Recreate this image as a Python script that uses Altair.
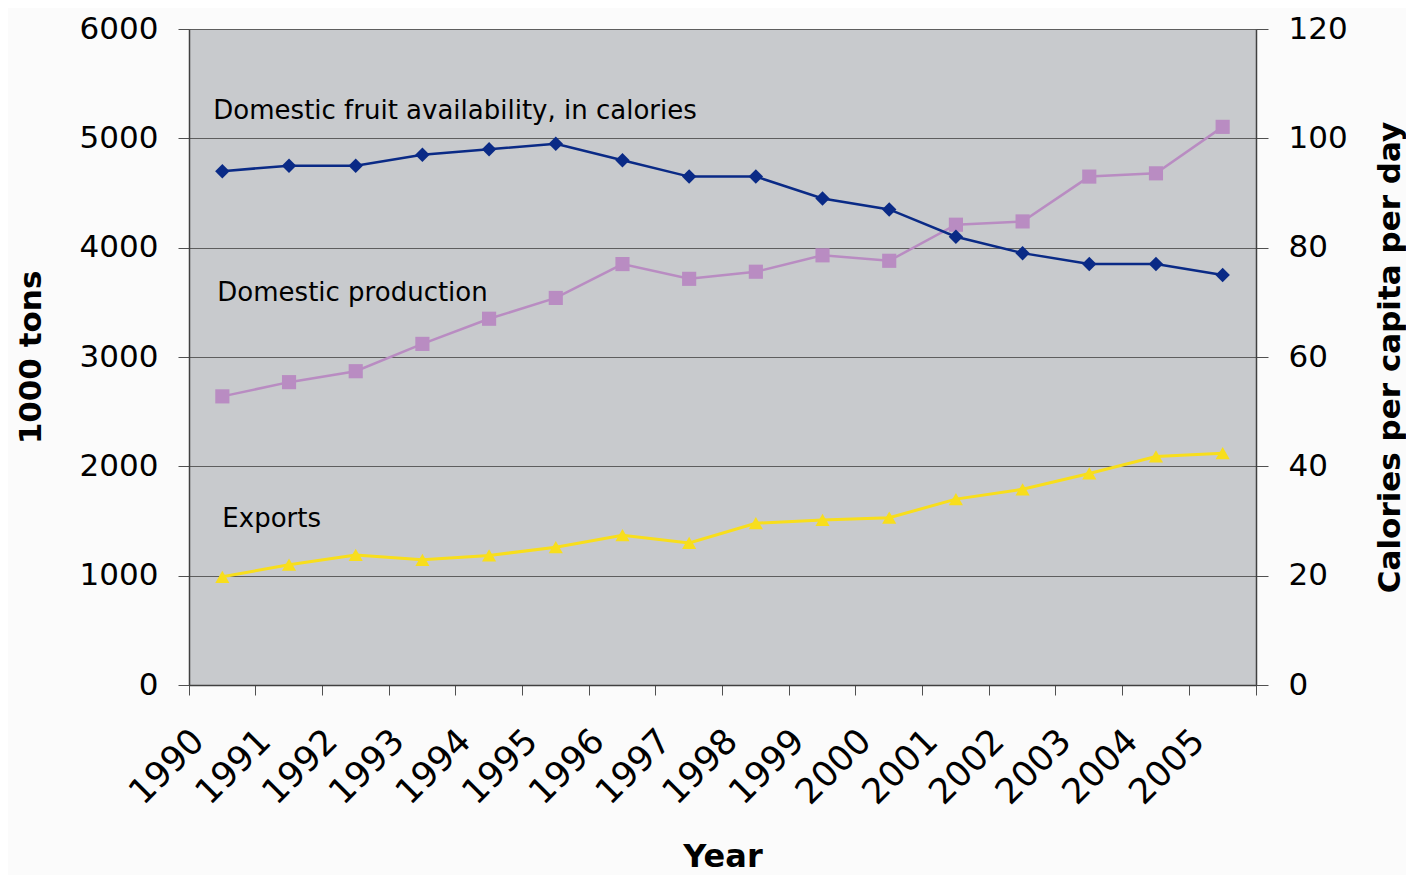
import altair as alt
import pandas as pd

years = [str(y) for y in range(1990, 2006)]
calories = [94, 95, 95, 97, 98, 99, 96, 93, 93, 89, 87, 82, 79, 77, 77, 75]
production = [2640, 2770, 2870, 3120, 3350, 3540, 3850, 3715, 3780, 3930, 3880, 4210, 4240, 4650, 4680, 5105]
exports = [990, 1100, 1190, 1145, 1185, 1260, 1370, 1300, 1480, 1510, 1530, 1700, 1790, 1935, 2090, 2120]

label_texts = ["Domestic fruit availability, in calories", "Domestic production", "Exports"]
label_years = ["1990", "1990", "1990"]
label_values = [5250, 3585, 1518]

left_ticks = [0, 1000, 2000, 3000, 4000, 5000, 6000]
right_ticks = [0, 20, 40, 60, 80, 100, 120]

df = pd.DataFrame({"Year": years, "Calories": calories,
                   "Production": production, "Exports": exports})
lab = pd.DataFrame({"Year": label_years, "Value": label_values, "Text": label_texts})

FONT = "DejaVu Sans"
NAVY = "#0a2a86"
MAUVE = "#b98cc2"
YELLOW = "#f8de1c"

xenc = alt.X(
    "Year:O",
    bandPosition=0.5,
    scale=alt.Scale(type="band", paddingInner=0, paddingOuter=0),
    axis=alt.Axis(
        title="Year", bandPosition=1, tickExtra=True,
        labelAngle=315, labelAlign="right", labelBaseline="middle",
        labelOffset=-24, labelPadding=40, tickSize=10,
        labelFontSize=35, titleFontSize=32, titleFontWeight="bold",
        titleX=533.5, titleY=171, titleBaseline="middle",
    ),
)

left_axis = alt.Axis(
    title="1000 tons", values=left_ticks, format="d", grid=True,
    gridColor="#5e5e5e", gridWidth=1, tickSize=11, labelPadding=20,
    labelFontSize=31, titleFontSize=31, titleFontWeight="bold", titleAngle=270,
    titleX=-158, titleY=328, titleAlign="center", titleBaseline="middle",
)
left_scale = alt.Scale(domain=[0, 6000], nice=False)

def series(field, color, shape, size, width):
    base = alt.Chart(df).encode(
        x=xenc,
        y=alt.Y(f"{field}:Q", scale=left_scale, axis=left_axis),
    )
    return base.mark_line(color=color, strokeWidth=width) + base.mark_point(
        shape=shape, filled=True, color=color, size=size, opacity=1)

prod = series("Production", MAUVE, "square", 200, 2.5)
expo = series("Exports", YELLOW, "triangle-up", 200, 3)

texts = []
for i, dx in enumerate([-9, -5, 0]):
    texts.append(
        alt.Chart(lab.iloc[[i]]).mark_text(
            align="left", baseline="middle", font=FONT, fontSize=26,
            color="black", dx=dx,
        ).encode(
            x=xenc,
            y=alt.Y("Value:Q", scale=left_scale, axis=left_axis),
            text="Text:N",
        )
    )

left = alt.layer(prod, expo, *texts)

rbase = alt.Chart(df).encode(
    x=xenc,
    y=alt.Y(
        "Calories:Q",
        scale=alt.Scale(domain=[0, 120], nice=False),
        axis=alt.Axis(
            orient="right", title="Calories per capita per day",
            values=right_ticks, format="d", grid=False, tickSize=12,
            labelPadding=20, labelFontSize=31, titleFontSize=31,
            titleFontWeight="bold", titleAngle=270, titleX=134, titleY=328,
            titleAlign="center", titleBaseline="middle",
        ),
    ),
)
right = rbase.mark_line(color=NAVY, strokeWidth=2.5) + rbase.mark_point(
    shape="diamond", filled=True, color=NAVY, size=210, opacity=1)

chart = (
    alt.layer(left, right)
    .resolve_scale(y="independent")
    .properties(
        width=1067, height=656,
        padding={"left": 181, "top": 21, "right": 150, "bottom": 200},
        autosize=alt.AutoSizeParams(type="none"),
        background="#fbfbfb",
    )
    .configure_view(fill="#c8cacd", stroke="#8a8a8a", strokeWidth=1)
    .configure_axis(
        labelFont=FONT, titleFont=FONT, labelColor="black", titleColor="black",
        domainColor="#404040", domainWidth=1.5, tickColor="#505050",
        tickWidth=1,
    )
)

chart.save("out.html", embed_options={"renderer": "svg", "actions": False})
